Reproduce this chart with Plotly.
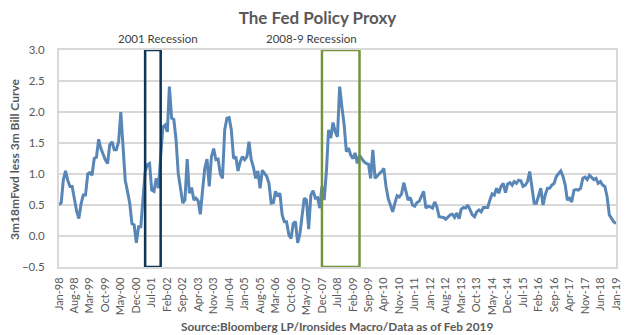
import pandas as pd
import plotly.graph_objects as go

# Monthly values, Jan-1998 .. Jan-2019
proxy_values = [
    0.50, 0.54, 0.90, 1.05, 0.90, 0.80, 0.80, 0.58, 0.40, 0.28,
    0.52, 0.66, 0.66, 1.00, 1.02, 0.98, 1.25, 1.27, 1.56, 1.41,
    1.30, 1.23, 1.17, 1.47, 1.52, 1.39, 1.39, 1.52, 2.00, 1.44,
    0.90, 0.72, 0.53, 0.20, 0.18, -0.11, 0.15, 0.15, 0.58, 1.04,
    1.15, 1.17, 0.74, 0.72, 0.93, 0.77, 1.28, 1.76, 1.79, 1.68,
    2.41, 1.90, 1.88, 1.55, 1.01, 0.74, 0.53, 0.58, 1.24, 0.69,
    0.78, 0.58, 0.61, 0.57, 0.35, 0.74, 1.09, 1.24, 0.80, 1.28,
    1.41, 1.23, 1.24, 1.00, 0.93, 1.71, 1.90, 1.91, 1.71, 1.25,
    1.28, 1.05, 1.20, 1.28, 1.23, 1.28, 1.52, 1.23, 1.11, 0.93,
    1.05, 0.77, 1.06, 1.01, 0.96, 0.85, 0.53, 0.54, 0.72, 0.64,
    0.69, 0.34, 0.23, 0.23, 0.02, -0.04, 0.20, 0.23, -0.11, 0.04,
    0.28, 0.61, 0.58, 0.11, 0.66, 0.73, 0.61, 0.62, 0.45, 0.80,
    0.58, 1.06, 1.71, 1.58, 1.83, 1.68, 1.60, 2.41, 2.08, 1.80,
    1.36, 1.42, 1.30, 1.25, 1.34, 1.17, 1.30, 1.24, 1.20, 1.17,
    1.16, 0.93, 1.39, 0.93, 0.98, 1.01, 1.04, 1.09, 0.80, 0.60,
    0.50, 0.39, 0.53, 0.65, 0.63, 0.68, 0.86, 0.72, 0.58, 0.62,
    0.50, 0.48, 0.54, 0.56, 0.65, 0.72, 0.45, 0.48, 0.47, 0.45,
    0.55, 0.47, 0.31, 0.31, 0.30, 0.27, 0.30, 0.34, 0.35, 0.30,
    0.37, 0.28, 0.43, 0.46, 0.45, 0.50, 0.42, 0.34, 0.31, 0.39,
    0.42, 0.39, 0.46, 0.46, 0.46, 0.58, 0.68, 0.66, 0.77, 0.69,
    0.80, 0.85, 0.70, 0.84, 0.86, 0.82, 0.88, 0.85, 0.90, 0.89,
    0.80, 0.82, 0.88, 1.04, 0.80, 0.53, 0.53, 0.66, 0.77, 0.50,
    0.66, 0.77, 0.77, 0.82, 0.85, 0.96, 1.01, 1.05, 0.96, 0.82,
    0.58, 0.61, 0.55, 0.74, 0.75, 0.74, 0.77, 0.93, 0.95, 0.91,
    0.98, 0.95, 0.91, 0.93, 0.85, 0.88, 0.82, 0.80, 0.63, 0.34,
    0.28, 0.23, 0.20,
]
start_month = "1998-01-01"
dates = pd.date_range(start_month, periods=len(proxy_values), freq="MS")

tick_dates = pd.date_range(start_month, end=dates[-1], freq="7MS")
tick_labels = [d.strftime("%b-%y") for d in tick_dates]

recession_names = ["2001 Recession", "2008-9 Recession"]
recession_starts = ["2001-04-01", "2007-12-01"]
recession_ends = ["2001-11-01", "2009-05-01"]
recession_colors = ["#0E3456", "#76933C"]
recession_label_x = [0.178, 0.453]

title_text = "The Fed Policy Proxy"
y_title = "3m18mFwd less 3m Bill Curve"
source_text = "Source:Bloomberg LP/Ironsides Macro/Data as of Feb 2019"

FONT = "Lato"
GREY = "#595959"

fig = go.Figure()
fig.add_trace(go.Scatter(
    x=dates, y=proxy_values, mode="lines",
    line=dict(color="#5887B7", width=3),
    hoverinfo="skip", showlegend=False,
))

for name, s, e, c, lx in zip(recession_names, recession_starts, recession_ends,
                             recession_colors, recession_label_x):
    fig.add_shape(type="rect", xref="x", yref="y", x0=s, x1=e, y0=-0.5, y1=3.0,
                  line=dict(color=c, width=2.5), fillcolor="rgba(0,0,0,0)", layer="above")
    fig.add_annotation(text=name, xref="paper", yref="paper", x=lx, y=1.055,
                       showarrow=False, xanchor="center", yanchor="middle",
                       font=dict(family=FONT, size=11.5, color="#404040"))

fig.add_annotation(text=y_title, xref="paper", yref="paper", x=-0.08, y=0.5,
                   textangle=-90, showarrow=False, xanchor="center", yanchor="middle",
                   font=dict(family=FONT, size=12, color=GREY, weight="bold"))
fig.add_annotation(text=source_text, xref="paper", yref="paper", x=0.499, y=-0.272,
                   showarrow=False, xanchor="center", yanchor="middle",
                   font=dict(family=FONT, size=11.8, color=GREY, weight="bold"))

fig.update_layout(
    width=635, height=335,
    margin=dict(l=59, r=19, t=50, b=68),
    paper_bgcolor="white", plot_bgcolor="white",
    title=dict(text=title_text, x=0.5, xref="container", xanchor="center",
               y=1 - 18 / 335, yanchor="middle",
               font=dict(family=FONT, size=17, color=GREY, weight="bold")),
    xaxis=dict(
        type="date", range=[dates[0], dates[-1]],
        tickvals=tick_dates, ticktext=tick_labels, tickangle=-90,
        showgrid=False, ticks="", ticklabelstandoff=4,
        showline=True, linecolor="#D9D9D9", linewidth=2, mirror=True,
        tickfont=dict(family=FONT, size=11, color=GREY),
    ),
    yaxis=dict(
        range=[-0.5, 3.0], dtick=0.5, tickformat=".1f",
        showgrid=True, gridcolor="#D9D9D9", gridwidth=2,
        zeroline=False, ticks="", ticklabelstandoff=10,
        showline=True, linecolor="#D9D9D9", linewidth=2, mirror=True,
        tickfont=dict(family=FONT, size=11.5, color=GREY),
    ),
)

fig.write_html("out.html")
